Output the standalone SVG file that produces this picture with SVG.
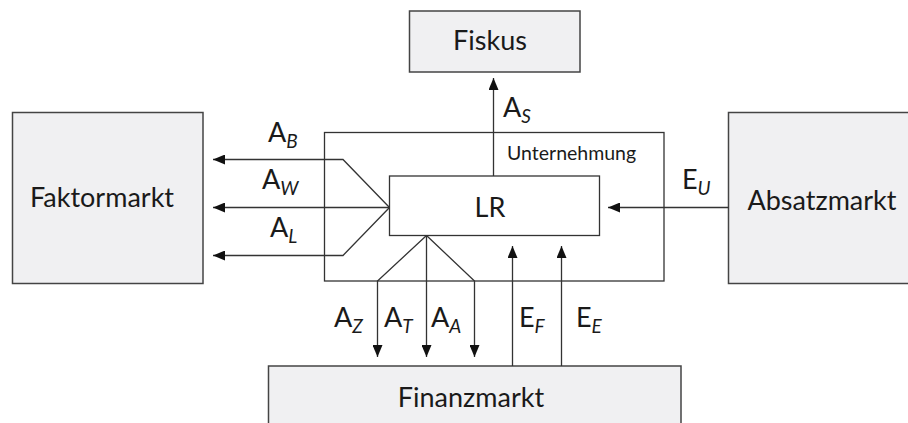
<svg xmlns="http://www.w3.org/2000/svg" width="908" height="423" viewBox="0 0 908 423">
<defs>
<style>
.box{fill:#f0f0f2;stroke:#444;stroke-width:1.5}
.frame{fill:#fff;stroke:#333;stroke-width:1.3}
.ln{fill:none;stroke:#333;stroke-width:1.3}
.t{font-family:Lato,"Open Sans",sans-serif;font-size:27px;fill:#1a1a1a}
.s{font-family:Lato,"Open Sans",sans-serif;font-size:19px;font-style:italic}
.u{font-family:Lato,"Open Sans",sans-serif;font-size:19.5px;fill:#1a1a1a}
</style>
<marker id="ah" viewBox="0 0 12 10" refX="12" refY="5" markerWidth="12" markerHeight="10" markerUnits="userSpaceOnUse" orient="auto">
<path d="M0,0 L12,5 L0,10 Z" fill="#111"/>
</marker>
</defs>
<g id="fiskus"><rect class="box" x="409.5" y="11" width="170.5" height="61"/><text class="t" x="490" y="50" text-anchor="middle">Fiskus</text></g>
<g id="faktormarkt"><rect class="box" x="12.5" y="112.5" width="190.5" height="171"/><text class="t" x="102" y="207" text-anchor="middle">Faktormarkt</text></g>
<g id="absatzmarkt"><rect class="box" x="728.5" y="112.5" width="185" height="171"/><text class="t" x="822" y="210" text-anchor="middle">Absatzmarkt</text></g>
<g id="finanzmarkt"><rect class="box" x="268.5" y="366" width="412.5" height="70"/><text class="t" x="471" y="407" text-anchor="middle">Finanzmarkt</text></g>
<g id="unternehmung"><rect class="frame" x="324.5" y="132.5" width="339.5" height="148.5"/><text class="u" x="507" y="160">Unternehmung</text></g>
<g id="lr"><rect class="frame" x="389.5" y="176" width="210" height="59.5"/><text class="t" x="490" y="217" text-anchor="middle">LR</text></g>
<g id="connectors">
<path class="ln" d="M389.5,207.5 L343,159.5 L213,159.5" marker-end="url(#ah)"/>
<path class="ln" d="M389.5,207.5 L213,207.5" marker-end="url(#ah)"/>
<path class="ln" d="M389.5,207.5 L343,255.5 L213,255.5" marker-end="url(#ah)"/>
<path class="ln" d="M493.5,176 L493.5,78" marker-end="url(#ah)"/>
<path class="ln" d="M728.5,207.5 L608,207.5" marker-end="url(#ah)"/>
<path class="ln" d="M426.5,235.5 L377.5,281 L377.5,357" marker-end="url(#ah)"/>
<path class="ln" d="M426.5,235.5 L426.5,357" marker-end="url(#ah)"/>
<path class="ln" d="M426.5,235.5 L474.5,281 L474.5,357" marker-end="url(#ah)"/>
<path class="ln" d="M512.5,366 L512.5,246" marker-end="url(#ah)"/>
<path class="ln" d="M561.5,366 L561.5,246" marker-end="url(#ah)"/>
</g>
<g id="labels">
<text class="t" x="268" y="141.5">A<tspan class="s" dy="6">B</tspan></text>
<text class="t" x="262" y="189">A<tspan class="s" dy="6">W</tspan></text>
<text class="t" x="270" y="236.5">A<tspan class="s" dy="6">L</tspan></text>
<text class="t" x="503" y="116.5">A<tspan class="s" dy="6">S</tspan></text>
<text class="t" x="682" y="189">E<tspan class="s" dy="6">U</tspan></text>
<text class="t" x="334" y="327">A<tspan class="s" dy="6">Z</tspan></text>
<text class="t" x="384" y="327">A<tspan class="s" dy="6">T</tspan></text>
<text class="t" x="431" y="327">A<tspan class="s" dy="6">A</tspan></text>
<text class="t" x="519" y="327">E<tspan class="s" dy="6">F</tspan></text>
<text class="t" x="576" y="327">E<tspan class="s" dy="6">E</tspan></text>
</g>
</svg>
